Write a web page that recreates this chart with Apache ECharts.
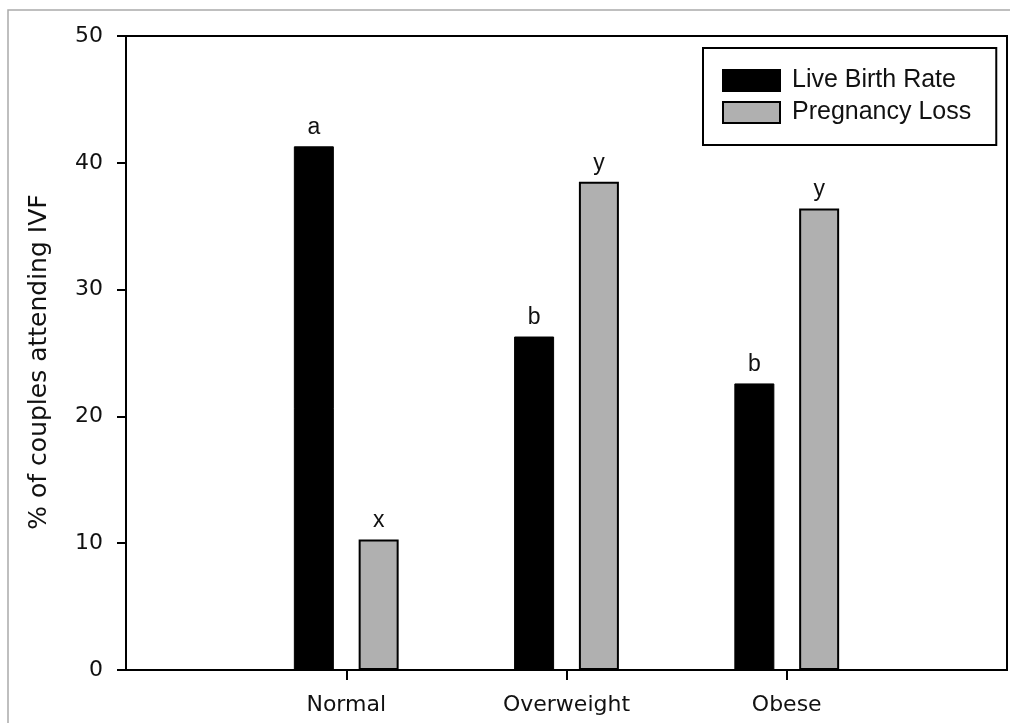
<!DOCTYPE html>
<html>
<head>
<meta charset="utf-8">
<script src="https://cdn.jsdelivr.net/npm/echarts@6/dist/echarts.min.js"></script>
<style>html,body{margin:0;padding:0;background:#fff}#c{width:1010px;height:723px}</style>
</head>
<body>
<div id="c"></div>
<script>
const categories = ['', 'Normal', 'Overweight', 'Obese', ''];
const liveBirth = ['-', 41.3, 26.3, 22.6, '-'];
const pregnancyLoss = ['-', 10.3, 38.5, 36.4, '-'];
const liveLabels = ['', 'a', 'b', 'b', ''];
const lossLabels = ['', 'x', 'y', 'y', ''];
const yTicks = [0, 10, 20, 30, 40, 50];

const font = 'Liberation Sans, Arial, sans-serif';
const wide = 'DejaVu Sans, sans-serif';
const chart = echarts.init(document.getElementById('c'));
chart.setOption({
  animation: false,
  textStyle: { fontFamily: font },
  graphic: [{
    type: 'rect', shape: { x: 8, y: 10, width: 1010, height: 730 },
    style: { fill: 'none', stroke: '#aaa', lineWidth: 1.5 }, silent: true, z: -1
  }],
  grid: { left: 126, top: 36, right: 3, bottom: 53, show: true, borderColor: '#000', borderWidth: 2, backgroundColor: 'transparent' },
  legend: {
    left: 703, top: 48, orient: 'vertical',
    padding: [20, 25, 20, 19],
    itemWidth: 57, itemHeight: 21, itemGap: 7,
    borderColor: '#000', borderWidth: 2,
    icon: 'rect',
    textStyle: { fontSize: 25, color: '#111', fontFamily: font, padding: [0, 0, 0, 7], lineHeight: 25 },
    data: ['Live Birth Rate', 'Pregnancy Loss']
  },
  xAxis: {
    type: 'category', data: categories, boundaryGap: false,
    axisLine: { lineStyle: { color: '#000', width: 2 } },
    axisTick: { length: 10, lineStyle: { color: '#000', width: 2 }, interval: (i) => i >= 1 && i <= 3 },
    axisLabel: { fontSize: 22, color: '#111', margin: 24, interval: 0, fontFamily: wide },
    splitLine: { show: false }
  },
  yAxis: {
    type: 'value', min: 0, max: 50, interval: 10,
    name: '% of couples attending IVF', nameLocation: 'middle', nameRotate: 90, nameGap: 74,
    nameTextStyle: { fontSize: 25, color: '#111', fontFamily: wide, padding: [0, 18, 0, 0] },
    axisLine: { show: true, lineStyle: { color: '#000', width: 2 } },
    axisTick: { show: true, length: 9, lineStyle: { color: '#000', width: 2 } },
    axisLabel: { fontSize: 22, color: '#111', margin: 23, fontFamily: wide,
      formatter: (v) => yTicks.includes(v) ? String(v) : '' },
    splitLine: { show: false }
  },
  series: [
    {
      name: 'Live Birth Rate', type: 'bar', data: liveBirth, barWidth: 40, barGap: '62%',
      itemStyle: { color: '#000', borderColor: '#000', borderWidth: 1 },
      label: { show: true, position: 'top', distance: 7, fontSize: 23, color: '#111', fontFamily: font,
        formatter: (p) => liveLabels[p.dataIndex] }
    },
    {
      name: 'Pregnancy Loss', type: 'bar', data: pregnancyLoss, barWidth: 40,
      itemStyle: { color: '#b0b0b0', borderColor: '#000', borderWidth: 2 },
      label: { show: true, position: 'top', distance: 7, fontSize: 23, color: '#111', fontFamily: font,
        formatter: (p) => lossLabels[p.dataIndex] }
    }
  ]
});
</script>
</body>
</html>
